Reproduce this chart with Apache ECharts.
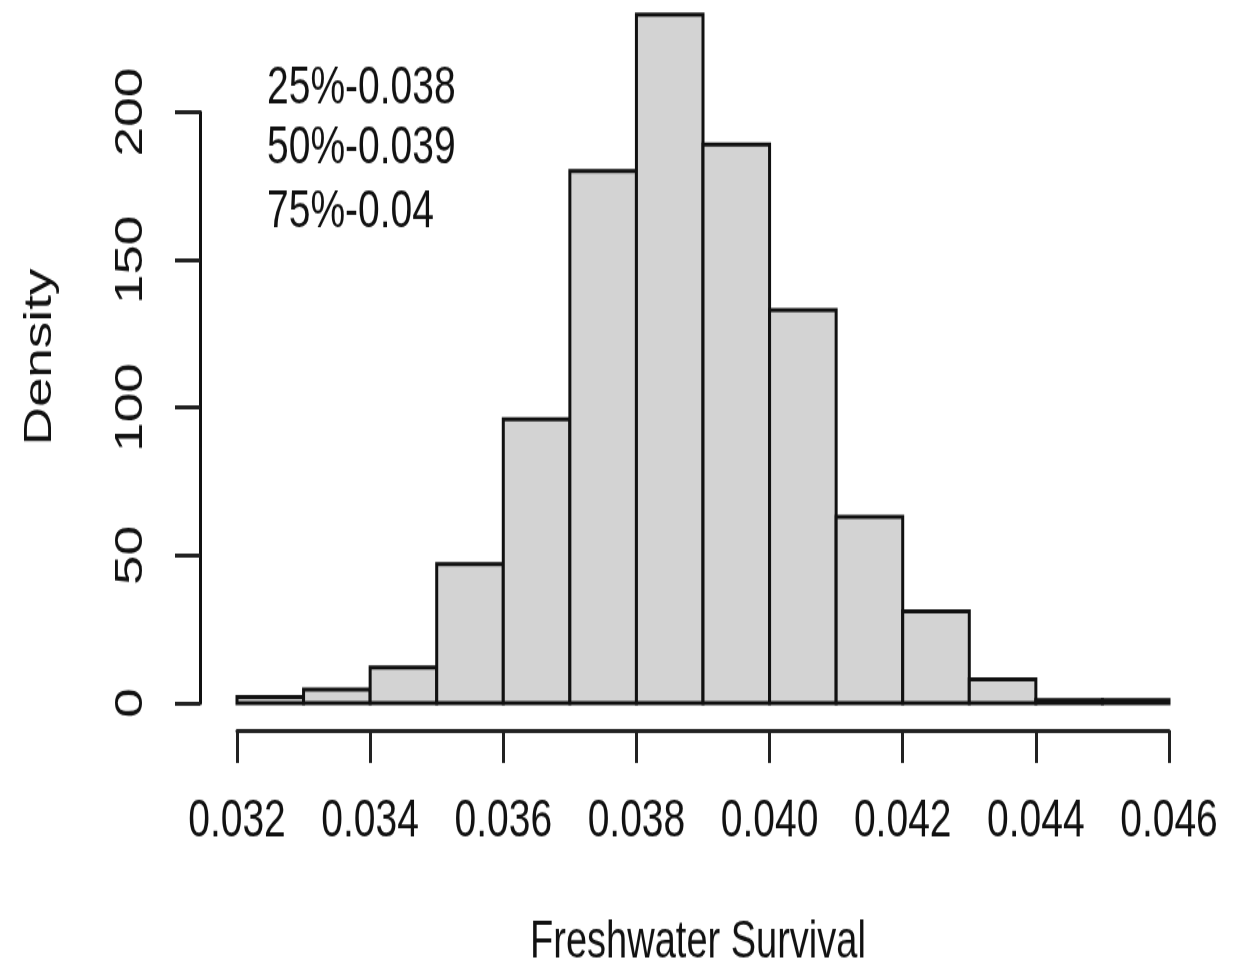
<!DOCTYPE html>
<html>
<head>
<meta charset="utf-8">
<script src="https://cdn.jsdelivr.net/npm/echarts@6/dist/echarts.min.js"></script>
<style>
    html, body { margin: 0; padding: 0; background: #fff; }
    #wrap { width: 1234px; height: 967px; overflow: hidden; }
    /* the reference is stretched vertically, so the chart is drawn short and scaled up */
    #chart { width: 1234px; height: 711px; transform: scaleY(1.36); transform-origin: 0 0; }
</style>
</head>
<body>
<div id="wrap"><div id="chart"></div></div>
<script>
    var binEdges = [0.032, 0.033, 0.034, 0.035, 0.036, 0.037, 0.038, 0.039,
                    0.040, 0.041, 0.042, 0.043, 0.044, 0.045, 0.046];
    var density = [2, 4.5, 12, 47, 96, 180, 233, 189, 133, 63, 31, 8, 1, 1];
    var quantiles = ['25%-0.038', '50%-0.039', '75%-0.04'];
    var xTitle = 'Freshwater Survival';
    var yTitle = 'Density';

    var font = '"Liberation Sans", Arial, Helvetica, sans-serif';

    var bars = density.map(function (d, i) {
        return [binEdges[i], binEdges[i + 1], d];
    });

    var chart = echarts.init(document.getElementById('chart'));

    var quantileText = quantiles.map(function (q, i) {
        return {
            type: 'text',
            left: 267,
            top: [46, 90, 137][i],
            style: {text: q, font: '39px ' + font, fill: '#111'}
        };
    });

    var option = {
        animation: false,
        grid: {left: 237, right: 65, top: 82.4, bottom: 194.1},
        xAxis: {
            type: 'value',
            min: 0.032,
            max: 0.046,
            interval: 0.002,
            offset: 20,
            splitLine: {show: false},
            axisLine: {onZero: false, lineStyle: {color: '#222', width: 3}},
            axisTick: {length: 24, lineStyle: {color: '#222', width: 3}},
            axisLabel: {
                margin: 48,
                color: '#111',
                fontSize: 39,
                fontFamily: font,
                formatter: function (v) { return v.toFixed(3); }
            }
        },
        yAxis: {
            type: 'value',
            min: 0,
            max: 200,
            interval: 50,
            offset: 37,
            splitLine: {show: false},
            axisLine: {show: true, onZero: false, lineStyle: {color: '#111', width: 3}},
            axisTick: {show: true, length: 25, lineStyle: {color: '#222', width: 3}},
            axisLabel: {
                rotate: 90,
                margin: 49,
                color: '#111',
                fontSize: 39,
                fontFamily: font
            }
        },
        graphic: quantileText.concat([
            {
                type: 'text',
                x: 40,
                y: 262.5,
                rotation: Math.PI / 2,
                style: {text: yTitle, font: '39px ' + font, fill: '#111',
                        align: 'center', verticalAlign: 'middle'}
            },
            {
                type: 'text',
                x: 698,
                y: 693.4,
                style: {text: xTitle, font: '38px ' + font, fill: '#111',
                        align: 'center', verticalAlign: 'middle'}
            }
        ]),
        series: [
            {
                type: 'custom',
                clip: false,
                data: bars,
                encode: {x: [0, 1], y: 2},
                renderItem: function (params, api) {
                    var p0 = api.coord([api.value(0), api.value(2)]);
                    var p1 = api.coord([api.value(1), 0]);
                    return {
                        type: 'rect',
                        shape: {x: p0[0], y: p0[1], width: p1[0] - p0[0], height: p1[1] - p0[1]},
                        style: {fill: '#D3D3D3', stroke: '#111', lineWidth: 3}
                    };
                }
            }
        ]
    };
    chart.setOption(option);
</script>
</body>
</html>
